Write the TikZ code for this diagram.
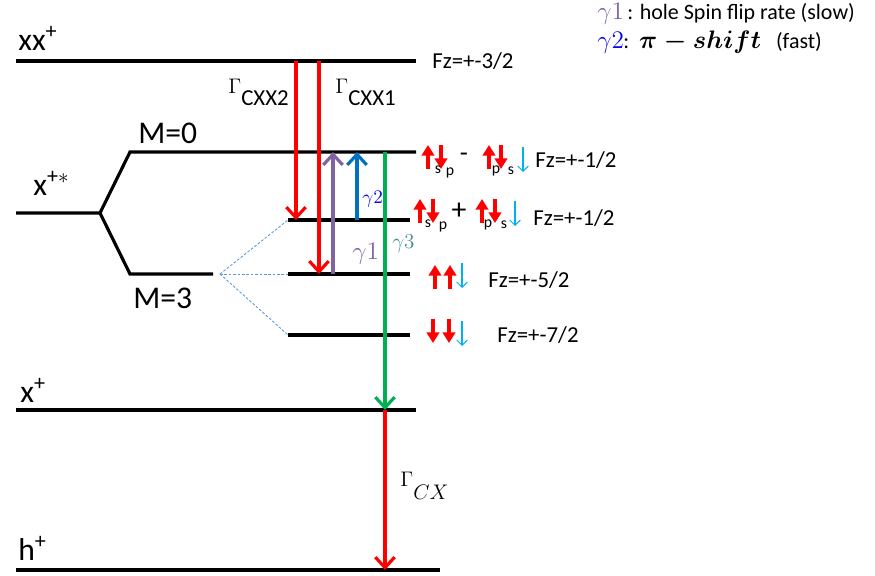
\documentclass[tikz,border=0pt]{standalone}
\usepackage{amsmath}
\usepackage{fontspec}
\setmainfont{Carlito}
\usepackage{xcolor}
\usetikzlibrary{arrows.meta}

\definecolor{purpleg}{RGB}{128,100,162}
\definecolor{blueg}{RGB}{0,112,192}
\definecolor{greeng}{RGB}{0,176,80}
\definecolor{tealg}{RGB}{70,140,140}
\definecolor{labelblue}{RGB}{10,10,230}
\definecolor{spinblue}{RGB}{0,176,240}
\definecolor{dotblue}{RGB}{91,155,213}

\begin{document}
\begin{tikzpicture}[x=0.02cm, y=-0.02cm, font=\fontsize{13}{15}\selectfont]
    % Styles
    \tikzstyle{level}=[line width=1.8pt]
    \tikzstyle{split}=[dotblue, line width=0.5pt, dash pattern=on 1.5pt off 1pt]
    \tikzstyle{decay}=[red, line width=1.8pt, -{Straight Barb[length=6pt,width=11pt]}]
    \tikzstyle{pump}=[line width=1.8pt, -{Straight Barb[length=6pt,width=11pt]}]
    \tikzstyle{spinup}=[red, line width=2.6pt, -{Triangle[length=6pt,width=7pt]}]
    \tikzstyle{spinthin}=[spinblue, line width=0.6pt, -{Straight Barb[length=3pt,width=6pt]}]
    \tikzstyle{big}=[font=\fontsize{18}{20}\selectfont, inner sep=0pt, anchor=base west]
    \tikzstyle{fz}=[font=\fontsize{13}{15}\selectfont, inner sep=0pt, anchor=base west]
    \tikzstyle{sub}=[font=\fontsize{9}{10}\selectfont, inner sep=0pt]

    \useasboundingbox (0,0) rectangle (875,575);

    % Levels
    \coordinate (xxL) at (16,61);   \coordinate (xxR) at (416,61);
    \coordinate (xsL) at (16,213);  \coordinate (fork) at (100,213);
    \coordinate (m0L) at (130,152); \coordinate (m0R) at (416,152);
    \coordinate (m3L) at (130,274); \coordinate (m3R) at (213,274);
    \coordinate (fan) at (220,274);
    \coordinate (l2L) at (288,220); \coordinate (l2R) at (410,220);
    \coordinate (l3L) at (288,274); \coordinate (l3R) at (410,274);
    \coordinate (l4L) at (288,335); \coordinate (l4R) at (410,335);
    \coordinate (xL) at (16,410);   \coordinate (xR) at (416,410);
    \coordinate (hL) at (16,570);   \coordinate (hR) at (440,570);

    \draw[level] (xxL) -- (xxR);
    \draw[level] (xsL) -- (fork) -- (m0L) -- (m0R);
    \draw[level] (fork) -- (m3L) -- (m3R);
    \draw[level] (l2L) -- (l2R);
    \draw[level] (l3L) -- (l3R);
    \draw[level] (l4L) -- (l4R);
    \draw[level] (xL) -- (xR);
    \draw[level] (hL) -- (hR);

    \draw[split] (fan) -- (l2L);
    \draw[split] (fan) -- (l3L);
    \draw[split] (fan) -- (l4L);

    % Level labels
    \node[big] (xxlab) at (18,50) {xx\textsuperscript{+}};
    \node[big] (xslab) at (33,195) {x\textsuperscript{+$*$}};
    \node[big] (xlab) at (20,402) {x\textsuperscript{+}};
    \node[big] (hlab) at (18,560) {h\textsuperscript{+}};
    \node[big] (m0lab) at (138,143) {M=0};
    \node[big] (m3lab) at (133,308) {M=3};

    % Transitions
    \coordinate (cA) at (296,0);
    \coordinate (cB) at (319,0);
    \coordinate (cC) at (333,0);
    \coordinate (cD) at (357,0);
    \coordinate (cE) at (385,0);
    \draw[decay] (cA |- xxL) -- (cA |- l2L);
    \draw[decay] (cB |- xxL) -- (cB |- l3L);
    \draw[pump, purpleg] (cC |- l3L) -- (cC |- m0L);
    \draw[pump, blueg] (cD |- l2L) -- (cD |- m0L);
    \draw[decay, greeng] (cE |- m0L) -- (cE |- xL);
    \draw[decay] (cE |- xL) -- (cE |- hL);

    \node[anchor=base west, inner sep=0pt] (gcxx2) at (228,105)
        {\raisebox{6.8pt}{\fontsize{12.5}{13}\selectfont$\Gamma$}CXX2};
    \node[anchor=base west, inner sep=0pt] (gcxx1) at (335,105)
        {\raisebox{6.8pt}{\fontsize{12.5}{13}\selectfont$\Gamma$}CXX1};
    \node[anchor=base west, inner sep=0pt, font=\fontsize{11.5}{13}\selectfont] (gcx) at (400,499)
        {\raisebox{7pt}{$\Gamma$}$CX$};
    \node[anchor=base west, inner sep=0pt, purpleg, font=\fontsize{14}{16}\selectfont] (g1) at (352,259) {$\gamma1$};
    \node[anchor=base west, inner sep=0pt, labelblue, font=\fontsize{10.5}{12}\selectfont] (g2) at (362,203) {$\gamma2$};
    \node[anchor=base west, inner sep=0pt, tealg, font=\fontsize{12}{14}\selectfont] (g3) at (392,248) {$\gamma3$};

    % Spins
    \foreach \x/\y in {428/157, 489/157, 420/211, 482/211, 435/277, 450/277}
        \draw[spinup] (\x,\y+12) -- (\x,\y-12);
    \foreach \x/\y in {441/157, 501/157, 433/211, 495/211, 433/331, 449/331}
        \draw[spinup] (\x,\y-12) -- (\x,\y+12);
    \foreach \x/\y in {523/159, 515/213, 462/275, 462/333}
        \draw[spinthin] (\x,\y-12) -- (\x,\y+13);

    \node[sub] (s1a) at (438,170) {s};
    \node[sub] (p1a) at (450,173) {p};
    \node[sub] (p1b) at (496,171) {p};
    \node[sub] (s1b) at (511,171) {s};
    \node[sub] (s2a) at (428,224) {s};
    \node[sub] (p2a) at (443,227) {p};
    \node[sub] (p2b) at (488,225) {p};
    \node[sub] (s2b) at (504,225) {s};
    \node[inner sep=0pt, font=\fontsize{15}{16}\selectfont] (minus) at (464,157) {-};
    \node[inner sep=0pt, font=\fontsize{17}{18}\selectfont] (plus) at (459,211) {+};

    \node[fz] (fz0) at (432,68) {Fz=+-3/2};
    \node[fz] (fz1) at (535,167) {Fz=+-1/2};
    \node[fz] (fz2) at (533,225) {Fz=+-1/2};
    \node[fz] (fz3) at (488,287) {Fz=+-5/2};
    \node[fz] (fz4) at (497,342) {Fz=+-7/2};

    % Legend
    \node[anchor=base west, inner sep=0pt, purpleg, font=\fontsize{14}{16}\selectfont] (leg1) at (597,19) {$\gamma1$};
    \node[anchor=base west, inner sep=0pt, font=\fontsize{12.5}{15}\selectfont] (leg1t) at (627,19) {: hole Spin flip rate (slow)};
    \node[anchor=base west, inner sep=0pt, labelblue, font=\fontsize{14}{16}\selectfont] (leg2) at (597,48) {$\gamma2$};
    \node[anchor=base west, inner sep=0pt, font=\fontsize{12.5}{15}\selectfont] (leg2t) at (623,48)
        {:\ \ {\fontsize{14.5}{16}\selectfont\boldmath$\pi - shift$}\ \ \ (fast)};
\end{tikzpicture}
\end{document}
